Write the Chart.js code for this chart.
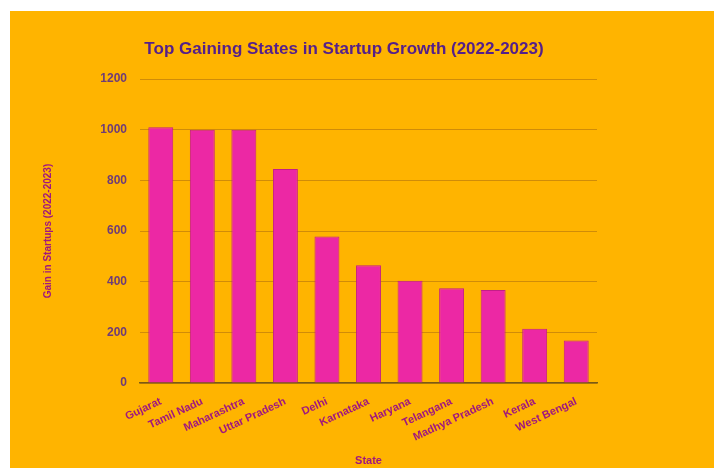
<!DOCTYPE html>
<html>
<head>
<meta charset="utf-8">
<title>Top Gaining States in Startup Growth (2022-2023)</title>
<script src="https://cdn.jsdelivr.net/npm/chart.js@4.4.1/dist/chart.umd.min.js"></script>
<style>
  html, body { margin: 0; padding: 0; background: #ffffff; }
  #frame {
    position: absolute; left: 10px; top: 11px;
    width: 704px; height: 457px; background: #FFB400;
  }
  canvas { display: block; }
</style>
</head>
<body>
<div id="frame"><canvas id="chart" width="704" height="457"></canvas></div>
<script>
// Startup gains by state, 2022 to 2023
const states = [
  'Gujarat', 'Tamil Nadu', 'Maharashtra', 'Uttar Pradesh', 'Delhi',
  'Karnataka', 'Haryana', 'Telangana', 'Madhya Pradesh', 'Kerala', 'West Bengal'
];
const gains = [1010, 1000, 1000, 845, 578, 465, 404, 374, 367, 214, 168];
const yTicks = [0, 200, 400, 600, 800, 1000, 1200];

const FONT = "'Liberation Sans', Arial, sans-serif";

new Chart(document.getElementById('chart'), {
  type: 'bar',
  data: {
    labels: states,
    datasets: [{
      label: 'Gain in Startups',
      data: gains,
      backgroundColor: '#EC28A4',
      borderColor: '#C41E88',
      borderWidth: 1,
      barPercentage: 0.6,
      categoryPercentage: 1.0
    }]
  },
  options: {
    responsive: false,
    animation: false,
    layout: { padding: { left: 0, right: 36, top: 0, bottom: 0 } },
    plugins: {
      legend: { display: false },
      tooltip: { enabled: false },
      title: {
        display: true,
        text: 'Top Gaining States in Startup Growth (2022-2023)',
        color: '#55208A',
        font: { family: FONT, size: 17, weight: 'bold' },
        padding: { top: 28, bottom: 19.6 }
      }
    },
    scales: {
      x: {
        grid: { display: false },
        border: { display: true, color: '#7A5A14', width: 1.5 },
        ticks: {
          color: '#A0187E',
          font: { family: FONT, size: 11, weight: 'bold' },
          minRotation: 25,
          maxRotation: 25,
          padding: 4,
          autoSkip: false
        },
        title: {
          display: true,
          text: 'State',
          color: '#A0187E',
          font: { family: FONT, size: 11, weight: 'bold' },
          padding: { top: 0, bottom: 0 }
        },
        afterFit: (scale) => { scale.height = 85; }
      },
      y: {
        min: 0,
        max: 1200,
        afterBuildTicks: (scale) => { scale.ticks = yTicks.map(v => ({ value: v })); },
        grid: { color: '#D08C08', lineWidth: 1, drawTicks: false },
        border: { display: false },
        ticks: {
          color: '#6E3C78',
          font: { family: FONT, size: 12, weight: 'bold' },
          padding: 13,
          callback: (value) => String(value)
        },
        title: {
          display: true,
          text: 'Gain in Startups (2022-2023)',
          color: '#A0187E',
          font: { family: FONT, size: 10, weight: 'bold' },
          padding: { top: 32, bottom: 0 }
        },
        afterFit: (scale) => { scale.width = 130; }
      },
      yRight: {
        position: 'right',
        display: true,
        grid: { display: false, drawTicks: false },
        border: { display: false },
        ticks: { display: false },
        afterFit: (scale) => { scale.width = 81; }
      }
    }
  }
});
</script>
</body>
</html>
